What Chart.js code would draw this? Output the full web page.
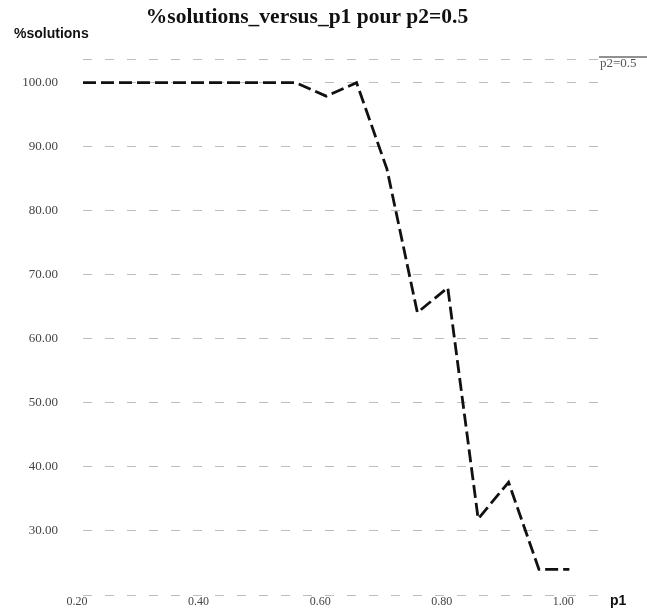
<!DOCTYPE html>
<html lang="fr">
<head>
  <meta charset="UTF-8" />
  <title>%solutions_versus_p1 pour p2=0.5</title>
  <script src="https://cdn.jsdelivr.net/npm/chart.js"></script>
  <style>
    body {
      margin: 0;
      background: #fff;
    }
    canvas {
      display: block;
    }
  </style>
</head>
<body>
  <canvas id="solChart" width="647" height="610"></canvas>

  <script>
    // valeurs
    const p1Values = [0.20, 0.25, 0.30, 0.35, 0.40, 0.45, 0.50, 0.55, 0.60, 0.65, 0.70, 0.75, 0.80, 0.85, 0.90, 0.95, 1.00];
    const solutions = [100, 100, 100, 100, 100, 100, 100, 100, 97.9, 100, 86.5, 64.1, 68.0, 31.9, 37.6, 24.0, 24.0];
    const xTicks = [0.20, 0.40, 0.60, 0.80, 1.00];
    const yTicks = [20, 30, 40, 50, 60, 70, 80, 90, 100];
    const seriesLabel = 'p2=0.5';

    const yMax = 103.7;

    // textes autour du graphique : titre d'axe, légende
    const extraText = {
      id: 'extraText',
      afterDraw(chart) {
        const ctx = chart.ctx;
        const area = chart.chartArea;
        ctx.save();
        ctx.fillStyle = '#111';
        ctx.font = 'bold 14px "Liberation Sans", Arial, sans-serif';
        ctx.textBaseline = 'middle';
        ctx.textAlign = 'left';
        ctx.fillText('%solutions', 14, 34);
        ctx.fillText('p1', area.right + 6, 601);

        // légende
        ctx.strokeStyle = '#222';
        ctx.lineWidth = 1;
        ctx.beginPath();
        ctx.moveTo(area.right - 5, 57);
        ctx.lineTo(647, 57);
        ctx.stroke();
        ctx.fillStyle = '#555';
        ctx.font = '13px "Liberation Serif", serif';
        ctx.fillText(seriesLabel, area.right - 4, 64);
        ctx.restore();
      }
    };

    const ctx = document.getElementById('solChart').getContext('2d');
    new Chart(ctx, {
      type: 'line',
      data: {
        datasets: [{
          label: seriesLabel,
          data: p1Values.map((x, i) => ({ x: x, y: solutions[i] })),
          borderColor: '#111',
          borderWidth: 2.8,
          borderDash: [13, 5],
          tension: 0,
          pointRadius: 0,
          fill: false
        }]
      },
      options: {
        responsive: false,
        animation: false,
        layout: { padding: { left: 10, right: 43, top: 0, bottom: 0 } },
        scales: {
          x: {
            type: 'linear',
            min: 0.2,
            max: 1.057,
            afterBuildTicks: s => { s.ticks = xTicks.map(v => ({ value: v })); },
            afterFit: s => { s.height = 15; },
            grid: { display: false, drawTicks: false },
            border: { display: false },
            ticks: {
              padding: 0,
              labelOffset: -6,
              color: '#444',
              font: { family: '"Liberation Serif", serif', size: 12 },
              callback: v => Number(v).toFixed(2)
            }
          },
          y: {
            min: 20,
            max: yMax,
            afterBuildTicks: s => { s.ticks = yTicks.concat([yMax]).map(v => ({ value: v })); },
            afterFit: s => { s.width = 73; },
            grid: {
              color: '#bdbdbd',
              lineWidth: 1,
              drawTicks: true,
              tickLength: 25,
              tickColor: 'rgba(0,0,0,0)'
            },
            border: { display: false, dash: [9, 13] },
            ticks: {
              padding: 0,
              color: '#444',
              font: { family: '"Liberation Serif", serif', size: 13 },
              callback: v => (v >= 30 && v <= 100) ? Number(v).toFixed(2) : ''
            }
          }
        },
        plugins: {
          legend: { display: false },
          tooltip: { enabled: false },
          title: {
            display: true,
            text: '%solutions_versus_p1 pour p2=0.5',
            color: '#111',
            font: { family: '"Liberation Serif", serif', size: 21.5, weight: 'bold', lineHeight: 1.2 },
            padding: { top: 5, bottom: 28.2 }
          }
        }
      },
      plugins: [extraText]
    });
  </script>
</body>
</html>
